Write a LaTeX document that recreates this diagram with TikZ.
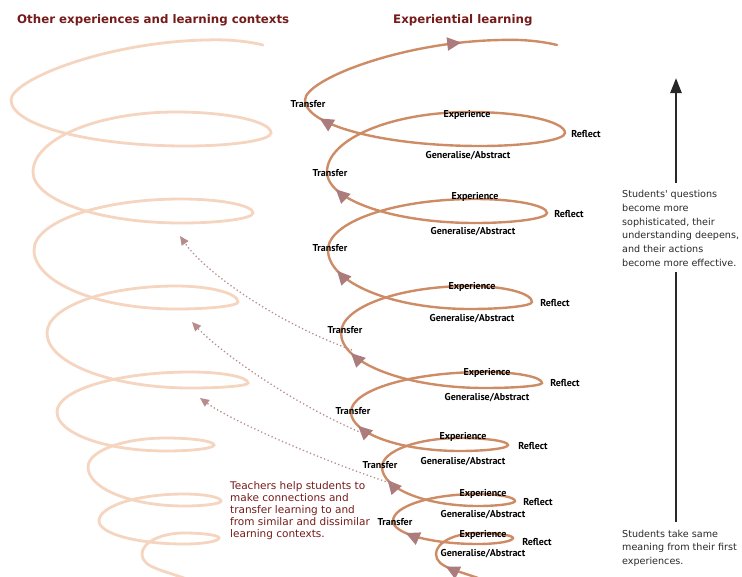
\documentclass[tikz,border=0pt]{standalone}
\usepackage{fontspec}
\usetikzlibrary{arrows.meta,decorations.markings}
\newfontfamily\headfont{DejaVu Sans}
\newfontfamily\lblfont{PT Sans}

\definecolor{helixdark}{RGB}{206,140,102}
\definecolor{helixlight}{RGB}{245,213,192}
\definecolor{tipmauve}{RGB}{172,124,124}
\definecolor{dotmauve}{RGB}{184,140,140}
\definecolor{maroon}{RGB}{118,26,26}
\definecolor{inkgray}{RGB}{40,40,40}

\tikzset{
  helix/.style={draw=helixdark, line width=2.4pt, line cap=round},
  helixtip/.tip={Triangle[length=14pt, width=13pt, color=tipmauve]},
  backmark/.style={postaction={decorate},
    decoration={markings, mark=at position #1 with {\arrow{helixtip}}}},
  startmark/.style={postaction={decorate},
    decoration={markings, mark=at position 0.72 with {\arrow{helixtip}}}},
  topmark/.style={postaction={decorate},
    decoration={markings, mark=at position 0.64 with {\arrow{helixtip}}}},
  stagelbl/.style={font=\lblfont\bfseries\fontsize{10}{11}\selectfont, text=black, inner sep=0pt},
  heading/.style={font=\headfont\bfseries\fontsize{11.8}{13}\selectfont, text=maroon, anchor=west, inner sep=0pt},
  notetext/.style={font=\headfont\fontsize{10.5}{12}\selectfont, text=maroon, align=left, anchor=north west, inner sep=0pt},
  sidetext/.style={font=\headfont\fontsize{9.6}{13.8}\selectfont, text=inkgray, align=left, anchor=north west, inner sep=0pt},
  linkarrow/.style={draw=dotmauve, line width=1.3pt, dash pattern=on 1.3pt off 2.5pt,
    -{Triangle[length=9pt, width=8pt, color=dotmauve]}},
  risebar/.style={draw=inkgray, line width=2.4pt},
}

% One helix: a start stroke, seven loops (left turn, back edge, right turn,
% front edge, return to the next left turn) and the open top turn.
\newcommand\helixpath{%
  \draw[helix, startmark] (486,581) .. controls (458,570) and (436,568) .. (436,554);
  \foreach \lx/\ly/\ux/\uy/\rx/\ry/\dx/\dy/\ox/\oy/\ap in {
      436/554/478/533/513/538/478/544/393/521/0.8,
      393/521/478/494/515/501/478/506/382/467/0.87,
      382/467/460/438/508/445/460/451/351/412/0.87,
      351/412/485/372/542/383/485/388/341/333/0.86,
      341/333/470/286/532/302/470/309/328/250/0.86,
      328/250/475/199/547/213/475/223/327/172/0.88,
      327/172/470/112/565/133/480/146/305/100/0.87}{
    \draw[helix] (\lx,\ly)
      .. controls (\lx,{\ly-0.55*(\ly-\uy)}) and ({\ux-0.55*(\ux-\lx)},\uy) .. (\ux,\uy)
      .. controls ({\ux+0.55*(\rx-\ux)},\uy) and (\rx,{\ry-0.55*(\ry-\uy)}) .. (\rx,\ry)
      .. controls (\rx,{\ry+0.55*(\dy-\ry)}) and ({\dx+0.55*(\rx-\dx)},\dy) .. (\dx,\dy);
    \draw[helix, backmark=\ap] (\dx,\dy)
      .. controls ({\dx-0.55*(\dx-\ox)},\dy) and (\ox,{\oy+0.55*(\dy-\oy)}) .. (\ox,\oy);
  }
  \draw[helix, topmark] (305,100) .. controls (305,80) and (400,42) .. (500,40)
    .. controls (525,39) and (545,42) .. (557,45);
}

\begin{document}
\begin{tikzpicture}[x=1pt, y=-1pt]
  \useasboundingbox (0,0) rectangle (742,576);

  % faint helix: other experiences and learning contexts
  \begin{scope}[xshift=-294pt,
      helix/.style={draw=helixlight, line width=2.8pt, line cap=round},
      backmark/.style={}, startmark/.style={}, topmark/.style={}]
    \helixpath
  \end{scope}

  % main helix: experiential learning
  \helixpath

  % headings
  \node[heading] (headother) at (17,20) {Other experiences and learning contexts};
  \node[heading] (headexp) at (393,20) {Experiential learning};

  % stage labels along the main helix
  \foreach \n/\x/\y in {1/308/104, 2/330/173, 3/330/248, 4/345/330, 5/353/411, 6/380/465, 7/395/522}
    \node[stagelbl] (transfer\n) at (\x,\y) {Transfer};
  \foreach \n/\x/\y in {1/467/115, 2/475/197, 3/472/287, 4/487/373, 5/463/437, 6/483/494, 7/483/535}
    \node[stagelbl] (experience\n) at (\x,\y) {Experience};
  \foreach \n/\x/\y in {1/586/134, 2/569/214, 3/555/303, 4/565/383, 5/533/446, 6/538/502, 7/537/542}
    \node[stagelbl] (reflect\n) at (\x,\y) {Reflect};
  \foreach \n/\x/\y in {1/468/156, 2/473/232, 3/472/319, 4/487/398, 5/463/462, 6/483/515, 7/483/554}
    \node[stagelbl] (generalise\n) at (\x,\y) {Generalise/Abstract};

  % transfer links to other contexts
  \coordinate (linkfromA) at (352,350);
  \coordinate (linktoA) at (180,236);
  \coordinate (linkfromB) at (362,433);
  \coordinate (linktoB) at (192,322);
  \coordinate (linkfromC) at (393,484);
  \coordinate (linktoC) at (200,398);
  \draw[linkarrow] (linkfromA) .. controls (275,322) and (205,272) .. (linktoA);
  \draw[linkarrow] (linkfromB) .. controls (295,405) and (220,352) .. (linktoB);
  \draw[linkarrow] (linkfromC) .. controls (320,460) and (230,420) .. (linktoC);

  \node[notetext] (teachers) at (230,481) {Teachers help students to\\make connections and\\transfer learning to and\\from similar and dissimilar\\learning contexts.};

  % growth arrow with its two captions
  \node[sidetext] (deepens) at (622,190) {Students' questions\\become more\\sophisticated, their\\understanding deepens,\\and their actions\\become more effective.};
  \node[sidetext, font=\headfont\fontsize{9.6}{13.3}\selectfont] (firstexp) at (622,530) {Students take same\\meaning from their first\\experiences.};
  \coordinate (risetip) at (676,78);
  \draw[risebar, shorten <=8pt, shorten >=5pt] (firstexp.north -| risetip) -- (deepens.south -| risetip);
  \draw[risebar, shorten <=7pt, -{Triangle[length=15pt, width=11pt]}] (deepens.north -| risetip) -- (risetip);
\end{tikzpicture}
\end{document}
